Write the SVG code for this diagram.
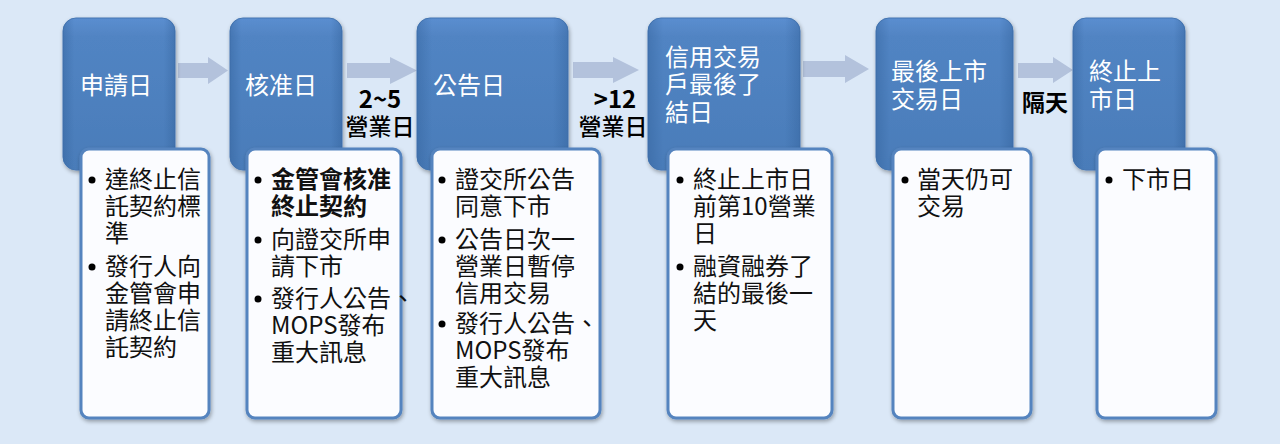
<svg xmlns="http://www.w3.org/2000/svg" width="1280" height="444" viewBox="0 0 1280 444">
<defs>
<linearGradient id="bv" x1="0" y1="0" x2="0" y2="1">
<stop offset="0" stop-color="#5b8ed0"/>
<stop offset="0.12" stop-color="#5184c3"/>
<stop offset="1" stop-color="#4a7cb9"/>
</linearGradient>
<linearGradient id="bh" x1="0" y1="0" x2="1" y2="0">
<stop offset="0" stop-color="#2c5a92" stop-opacity="0.35"/>
<stop offset="0.1" stop-color="#2c5a92" stop-opacity="0"/>
<stop offset="0.9" stop-color="#2c5a92" stop-opacity="0"/>
<stop offset="1" stop-color="#2c5a92" stop-opacity="0.35"/>
</linearGradient>
<filter id="sh" x="-10%" y="-10%" width="130%" height="130%">
<feGaussianBlur in="SourceAlpha" stdDeviation="2"/>
<feOffset dx="1" dy="2" result="b"/>
<feComponentTransfer><feFuncA type="linear" slope="0.35"/></feComponentTransfer>
<feMerge><feMergeNode/><feMergeNode in="SourceGraphic"/></feMerge>
</filter>
<style>
.blue{fill:url(#bv);stroke:#4677b3;stroke-width:1}
.bevel{fill:url(#bh)}
.card{fill:#fbfcff;stroke:#5584bf;stroke-width:3}
.arrow{fill:#b3c2dc}
.hd{font-family:"Noto Sans CJK TC","Noto Sans CJK SC",sans-serif;font-size:24px;fill:#ffffff}
.tx{font-family:"Noto Sans CJK TC","Noto Sans CJK SC",sans-serif;font-size:24px;fill:#111111}
.b{font-weight:bold}
.lb{font-family:"Noto Sans CJK TC","Noto Sans CJK SC",sans-serif;font-size:23px;fill:#000000;text-anchor:middle}
.dot{fill:#000000}
</style>
</defs>
<rect x="0" y="0" width="1280" height="444" fill="#dbe8f7"/>

<g id="connectors">
<polygon class="arrow" points="178,63 208,63 208,57 228,70.5 208,84 208,78 178,78"/>
<polygon class="arrow" points="347,63 390,63 390,57 417,70.5 390,84 390,78 347,78"/>
<polygon class="arrow" points="573,62 613,62 613,57 639,70 613,83 613,78 573,78"/>
<polygon class="arrow" points="803,61 845,61 845,55 869,69 845,83 845,77 803,77"/>
<polygon class="arrow" points="1018,63 1053,63 1053,57 1073,70 1053,83 1053,78 1018,78"/>
<text class="lb" x="380" font-weight="500"><tspan class="b" x="380" y="108" font-size="24">2~5</tspan><tspan x="380" y="135">營業日</tspan></text>
<text class="lb" x="613" font-weight="500"><tspan class="b" x="615" y="108" font-size="24">&gt;12</tspan><tspan x="613" y="135">營業日</tspan></text>
<text class="lb b" x="1045" y="111">隔天</text>
</g>

<g id="node1">
<g filter="url(#sh)"><rect class="blue" x="63" y="18" width="112" height="152" rx="13"/></g>
<rect class="bevel" x="63" y="18" width="112" height="152" rx="13"/>
<text class="hd" x="80" y="94">申請日</text>
<g filter="url(#sh)"><rect class="card" x="81" y="149" width="128" height="269" rx="8"/></g>
<circle class="dot" cx="92" cy="180" r="3.5"/>
<circle class="dot" cx="92" cy="267" r="3.5"/>
<text class="tx"><tspan x="105" y="188">達終止信</tspan><tspan x="105" y="215">託契約標</tspan><tspan x="105" y="242">準</tspan><tspan x="105" y="275">發行人向</tspan><tspan x="105" y="302">金管會申</tspan><tspan x="105" y="329">請終止信</tspan><tspan x="105" y="356">託契約</tspan></text>
</g>

<g id="node2">
<g filter="url(#sh)"><rect class="blue" x="230" y="18" width="112" height="152" rx="13"/></g>
<rect class="bevel" x="230" y="18" width="112" height="152" rx="13"/>
<text class="hd" x="245" y="94">核准日</text>
<g filter="url(#sh)"><rect class="card" x="247" y="149" width="154" height="269" rx="8"/></g>
<circle class="dot" cx="258" cy="180" r="3.5"/>
<circle class="dot" cx="258" cy="240" r="3.5"/>
<circle class="dot" cx="258" cy="299" r="3.5"/>
<text class="tx"><tspan class="b" x="271" y="188">金管會核准</tspan><tspan class="b" x="271" y="215">終止契約</tspan><tspan x="271" y="248">向證交所申</tspan><tspan x="271" y="275">請下市</tspan><tspan x="271" y="307">發行人公告、</tspan><tspan x="271" y="334">MOPS發布</tspan><tspan x="271" y="361">重大訊息</tspan></text>
</g>

<g id="node3">
<g filter="url(#sh)"><rect class="blue" x="417" y="18" width="151" height="152" rx="13"/></g>
<rect class="bevel" x="417" y="18" width="151" height="152" rx="13"/>
<text class="hd" x="433" y="94">公告日</text>
<g filter="url(#sh)"><rect class="card" x="432" y="149" width="168" height="269" rx="8"/></g>
<circle class="dot" cx="442" cy="180" r="3.5"/>
<circle class="dot" cx="442" cy="240" r="3.5"/>
<circle class="dot" cx="442" cy="324" r="3.5"/>
<text class="tx"><tspan x="455" y="188">證交所公告</tspan><tspan x="455" y="215">同意下市</tspan><tspan x="455" y="248">公告日次一</tspan><tspan x="455" y="275">營業日暫停</tspan><tspan x="455" y="302">信用交易</tspan><tspan x="455" y="332">發行人公告、</tspan><tspan x="455" y="359">MOPS發布</tspan><tspan x="455" y="386">重大訊息</tspan></text>
</g>

<g id="node4">
<g filter="url(#sh)"><rect class="blue" x="648" y="18" width="152" height="152" rx="13"/></g>
<rect class="bevel" x="648" y="18" width="152" height="152" rx="13"/>
<text class="hd"><tspan x="665" y="66">信用交易</tspan><tspan x="665" y="93">戶最後了</tspan><tspan x="665" y="121">結日</tspan></text>
<g filter="url(#sh)"><rect class="card" x="668" y="149" width="164" height="269" rx="8"/></g>
<circle class="dot" cx="680" cy="180" r="3.5"/>
<circle class="dot" cx="680" cy="267" r="3.5"/>
<text class="tx"><tspan x="693" y="188">終止上市日</tspan><tspan x="693" y="215">前第10營業</tspan><tspan x="693" y="242">日</tspan><tspan x="693" y="275">融資融券了</tspan><tspan x="693" y="302">結的最後一</tspan><tspan x="693" y="329">天</tspan></text>
</g>

<g id="node5">
<g filter="url(#sh)"><rect class="blue" x="876" y="18" width="137" height="152" rx="13"/></g>
<rect class="bevel" x="876" y="18" width="137" height="152" rx="13"/>
<text class="hd"><tspan x="891" y="80">最後上市</tspan><tspan x="891" y="108">交易日</tspan></text>
<g filter="url(#sh)"><rect class="card" x="893" y="149" width="138" height="269" rx="8"/></g>
<circle class="dot" cx="905" cy="180" r="3.5"/>
<text class="tx"><tspan x="917" y="188">當天仍可</tspan><tspan x="917" y="215">交易</tspan></text>
</g>

<g id="node6">
<g filter="url(#sh)"><rect class="blue" x="1073" y="18" width="112" height="152" rx="13"/></g>
<rect class="bevel" x="1073" y="18" width="112" height="152" rx="13"/>
<text class="hd"><tspan x="1089" y="80">終止上</tspan><tspan x="1089" y="108">市日</tspan></text>
<g filter="url(#sh)"><rect class="card" x="1097" y="149" width="119" height="269" rx="8"/></g>
<circle class="dot" cx="1109" cy="180" r="3.5"/>
<text class="tx" x="1122" y="188">下市日</text>
</g>
</svg>
